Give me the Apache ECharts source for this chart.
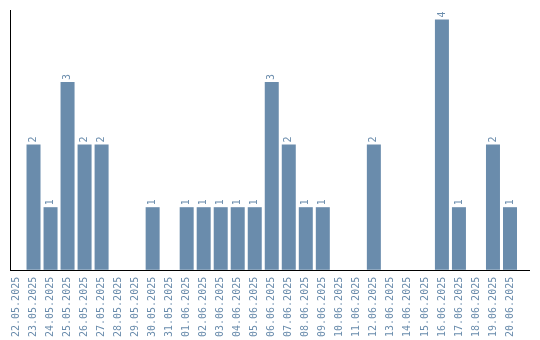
<!DOCTYPE html>
<html><head><meta charset="utf-8">
<script src="https://cdn.jsdelivr.net/npm/echarts@6/dist/echarts.min.js"></script>
<style>html,body{margin:0;padding:0;background:#fff}#c{width:540px;height:340px}</style>
</head><body><div id="c"></div>
<script>
var categories = ["22.05.2025","23.05.2025","24.05.2025","25.05.2025","26.05.2025","27.05.2025","28.05.2025","29.05.2025","30.05.2025","31.05.2025","01.06.2025","02.06.2025","03.06.2025","04.06.2025","05.06.2025","06.06.2025","07.06.2025","08.06.2025","09.06.2025","10.06.2025","11.06.2025","12.06.2025","13.06.2025","14.06.2025","15.06.2025","16.06.2025","17.06.2025","18.06.2025","19.06.2025","20.06.2025"];
var counts = [0,2,1,3,2,2,0,0,1,0,1,1,1,1,1,3,2,1,1,0,0,2,0,0,0,4,1,0,2,1];
var barColor = '#6a8cac';
var textColor = '#6a8cac';
var chart = echarts.init(document.getElementById('c'), null, {renderer:'canvas'});
chart.setOption({
  animation:false,
  grid:{left:8,right:21.5,top:10,bottom:70,containLabel:false},
  xAxis:{type:'category',data:categories,
    axisLine:{show:false},axisTick:{show:false},
    axisLabel:{rotate:90,interval:0,margin:7,color:textColor,fontFamily:'DejaVu Sans Mono',fontSize:10}},
  yAxis:{type:'value',min:0,max:4.15,axisLine:{show:false},axisTick:{show:false},axisLabel:{show:false},splitLine:{show:false}},
  series:[{type:'bar',data:counts.map(function(v){return v===0?null:v;}),barWidth:14,
    itemStyle:{color:barColor},
    label:{show:true,position:'top',distance:2,rotate:90,align:'left',verticalAlign:'middle',color:textColor,fontFamily:'DejaVu Sans Mono',fontSize:10}}],
  graphic:[
    {type:'line',shape:{x1:10.5,y1:10,x2:10.5,y2:270.5},style:{stroke:'#000',lineWidth:1}},
    {type:'line',shape:{x1:10,y1:270.5,x2:530,y2:270.5},style:{stroke:'#000',lineWidth:1}}
  ]
});
</script></body></html>
